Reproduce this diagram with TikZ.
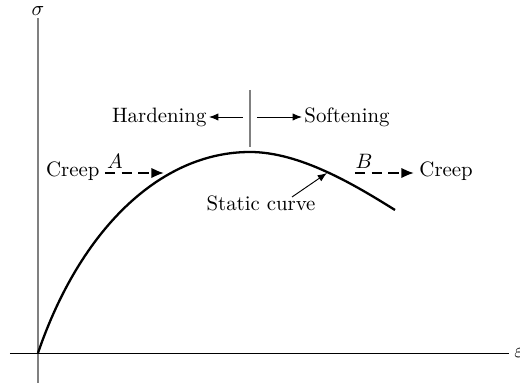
\documentclass[tikz,border=0pt]{standalone}
\usetikzlibrary{arrows.meta}
\begin{document}
\begin{tikzpicture}[x=0.48pt,y=-0.48pt,
  axisgray/.style={draw=gray, line width=0.55pt},
  axisblack/.style={draw=black, line width=0.4pt},
  curveline/.style={draw=black, line width=1.1pt},
  thinarrow/.style={draw=black, line width=0.45pt, -{Latex[length=4.5pt,width=3.5pt]}},
  creeparrow/.style={draw=black, line width=1pt, dash pattern=on 5pt off 3pt, -{Latex[length=6pt,width=5pt]}},
  lbl/.style={inner sep=1pt, font=\normalsize}]
\useasboundingbox (0,0) rectangle (520,383);
% axes
\coordinate (ytop) at (38,18);
\coordinate (ybot) at (38,383);
\coordinate (xl) at (10,353);
\coordinate (xr) at (509,353);
\coordinate (O) at (38,353);
\draw[axisgray] (ybot) -- (ytop);
\draw[axisblack] (xl) -- (xr);
\node[lbl] (sigma) at (38,11) {$\sigma$};
\node[lbl, anchor=west] (eps) at (512,353) {$\varepsilon$};
% static curve
\coordinate (peak) at (250,152);
\coordinate (cend) at (395,210);
\draw[curveline] (O) .. controls (80,230) and (160,152) .. (peak)
  .. controls (300,152) and (355,185) .. (cend);
% divider
\coordinate (dtop) at (250,90);
\coordinate (dbot) at (250,147);
\draw[axisgray] (dtop) -- (dbot);
\node[lbl, anchor=east] (hard) at (209,117) {Hardening};
\node[lbl, anchor=west] (soft) at (302,117) {Softening};
\coordinate (hs) at (243,117);
\coordinate (ss) at (257,117);
\draw[thinarrow] (hs) -- (hard.east);
\draw[thinarrow] (ss) -- (soft.west);
% creep A
\node[lbl, anchor=east] (creepL) at (102,171) {Creep};
\coordinate (As) at (105,173);
\coordinate (Ae) at (164,173);
\draw[creeparrow] (As) -- (Ae);
\node[lbl] (labA) at (115,161) {$A$};
% creep B
\coordinate (Bs) at (355,173);
\coordinate (Be) at (414,173);
\draw[creeparrow] (Bs) -- (Be);
\node[lbl] (labB) at (364,161) {$B$};
\node[lbl, anchor=west] (creepR) at (417,171) {Creep};
% static curve label
\node[lbl] (static) at (261,203) {Static curve};
\coordinate (sa) at (292,197);
\coordinate (sb) at (327,173);
\draw[thinarrow] (sa) -- (sb);
\end{tikzpicture}
\end{document}
